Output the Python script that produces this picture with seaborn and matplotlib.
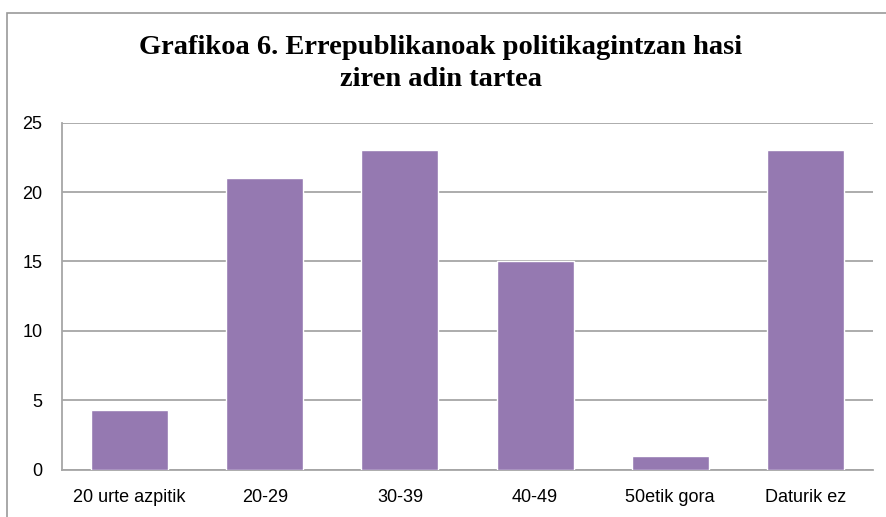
import pandas as pd
import seaborn as sns
import matplotlib.pyplot as plt
from matplotlib.patches import Rectangle

categories = ['20 urte azpitik', '20-29', '30-39', '40-49', '50etik gora', 'Daturik ez']
values = [4.3, 21, 23, 15, 1, 23]
yticks = [0, 5, 10, 15, 20, 25]

data = pd.DataFrame({'adina': categories, 'kopurua': values})

sns.set_style('white')
plt.rcParams['font.family'] = ['Liberation Sans', 'DejaVu Sans']
plt.rcParams['text.color'] = 'black'

fig = plt.figure(figsize=(8.87, 5.17), dpi=100)
ax = fig.add_axes([62 / 887, 1 - 469.5 / 517, (873 - 62) / 887, (469.5 - 122.7) / 517])

sns.barplot(data=data, x='adina', y='kopurua', color='#9579b1', saturation=1,
            width=0.57, ax=ax, zorder=3)

ax.set_xlim(-0.5, 5.5)
ax.set_ylim(0, 25)
ax.set_yticks(yticks)
ax.yaxis.grid(True, color='#a6a6a6', linewidth=1.3, zorder=0)
ax.set_axisbelow(True)
ax.set_xlabel('')
ax.set_ylabel('')
ax.tick_params(axis='both', length=0, labelsize=13, colors='black')
ax.tick_params(axis='y', pad=14)
ax.tick_params(axis='x', pad=14)
for s in ['top', 'right']:
    ax.spines[s].set_visible(False)
for s in ['left', 'bottom']:
    ax.spines[s].set_color('#a6a6a6')
    ax.spines[s].set_linewidth(1.3)

fig.text(0.497, 1 - 47 / 517, 'Grafikoa 6. Errepublikanoak politikagintzan hasi',
         ha='center', va='center', fontsize=20.5, fontweight='bold', color='black',
         family=['Liberation Serif', 'DejaVu Serif'])
fig.text(0.497, 1 - 80 / 517, 'ziren adin tartea',
         ha='center', va='center', fontsize=20.5, fontweight='bold', color='black',
         family=['Liberation Serif', 'DejaVu Serif'])

frame = Rectangle((7.5 / 887, -0.2), 1.2, 1.2 - 12.5 / 517, transform=fig.transFigure,
                  fill=False, edgecolor='#9a9a9a', linewidth=1.2, clip_on=False)
fig.patches.append(frame)

fig.savefig('out.png', dpi=100)
